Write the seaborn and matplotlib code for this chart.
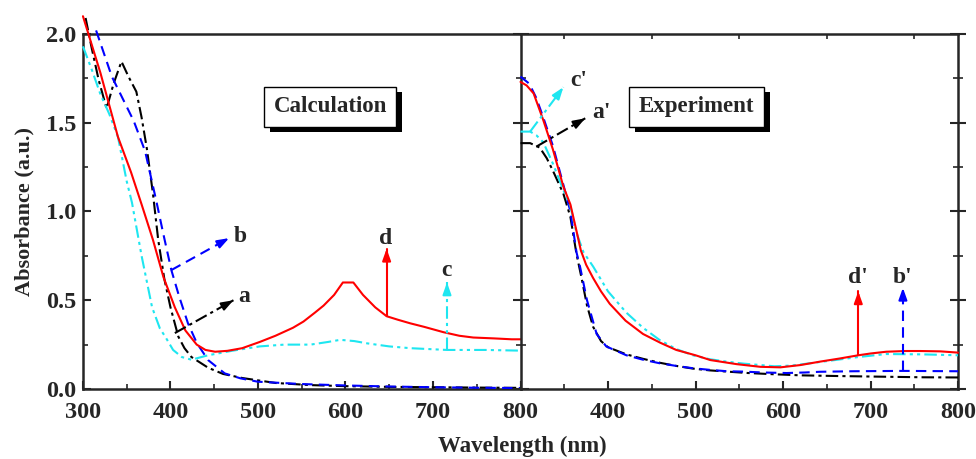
import numpy as np
import pandas as pd
import matplotlib
matplotlib.use("Agg")
import matplotlib.pyplot as plt
import matplotlib.transforms as mtransforms
from matplotlib.patches import Rectangle
from matplotlib.ticker import MultipleLocator
import seaborn as sns

# ---- calculated spectra (left panel) ----
calc_red_x = [300, 320, 340, 355, 367, 380, 392, 405, 417, 430, 440, 451, 465, 482, 502, 520, 540, 552,
              565, 575, 587, 597, 609, 620, 634, 647, 660, 674, 690, 712, 730, 746, 770, 790, 811]
calc_red_y = [2.10, 1.78, 1.42, 1.22, 1.04, 0.84, 0.63, 0.46, 0.33, 0.25, 0.22, 0.21, 0.215, 0.23, 0.265,
              0.30, 0.345, 0.38, 0.43, 0.47, 0.53, 0.60, 0.60, 0.53, 0.46, 0.41, 0.39, 0.37, 0.35, 0.32,
              0.30, 0.29, 0.285, 0.28, 0.28]
calc_cyan_x = [300, 310, 320, 330, 340, 350, 356, 367, 379, 388, 394, 403, 413, 424, 443, 470, 502, 530,
               560, 580, 594, 610, 625, 650, 674, 716, 760, 811]
calc_cyan_y = [1.93, 1.80, 1.66, 1.55, 1.42, 1.17, 1.05, 0.75, 0.46, 0.34, 0.295, 0.22, 0.18, 0.165, 0.19,
               0.215, 0.24, 0.25, 0.25, 0.265, 0.277, 0.27, 0.257, 0.24, 0.23, 0.22, 0.22, 0.215]
calc_black_x = [303, 310, 318, 327, 335, 344, 352, 361, 367, 373, 380, 386, 393, 400, 409, 416, 424, 443,
                460, 482, 520, 560, 600, 650, 700, 750, 811]
calc_black_y = [2.09, 1.92, 1.74, 1.58, 1.72, 1.845, 1.76, 1.675, 1.53, 1.355, 1.10, 0.84, 0.62, 0.46,
                0.295, 0.23, 0.18, 0.12, 0.085, 0.062, 0.034, 0.022, 0.016, 0.012, 0.010, 0.008, 0.006]
calc_blue_x = [315, 333, 346, 358, 371, 384, 392, 401, 410, 420, 430, 443, 462, 480, 500, 550, 600, 650,
               700, 750, 811]
calc_blue_y = [2.02, 1.76, 1.63, 1.51, 1.34, 1.055, 0.87, 0.67, 0.52, 0.37, 0.26, 0.163, 0.088, 0.06,
               0.041, 0.028, 0.02, 0.014, 0.010, 0.007, 0.005]

# ---- experimental spectra (right panel) ----
exp_red_x = [300, 307, 315, 326, 337, 349, 357, 364, 369, 375, 383, 392, 402, 420, 440, 460, 478, 500,
             517, 547, 574, 597, 620, 642, 665, 686, 700, 718, 740, 757, 780, 800]
exp_red_y = [1.73, 1.71, 1.665, 1.515, 1.35, 1.14, 1.04, 0.89, 0.78, 0.70, 0.625, 0.55, 0.48, 0.385,
             0.31, 0.26, 0.22, 0.19, 0.163, 0.14, 0.125, 0.122, 0.135, 0.154, 0.172, 0.19, 0.20, 0.21,
             0.214, 0.214, 0.212, 0.205]
exp_cyan_x = [300, 311, 318, 326, 337, 349, 357, 364, 372, 383, 400, 421, 440, 459, 478, 497, 516, 536,
              555, 574, 590, 610, 642, 686, 718, 760, 800]
exp_cyan_y = [1.45, 1.45, 1.43, 1.39, 1.27, 1.12, 1.03, 0.88, 0.77, 0.69, 0.55, 0.43, 0.345, 0.276,
              0.225, 0.19, 0.168, 0.154, 0.143, 0.135, 0.128, 0.132, 0.152, 0.18, 0.197, 0.195, 0.19]
exp_blue_x = [300, 310, 318, 326, 337, 349, 357, 364, 368, 376, 387, 398, 421, 440, 459, 478, 497, 516,
              536, 555, 577, 604, 625, 642, 680, 737, 800]
exp_blue_y = [1.76, 1.72, 1.64, 1.53, 1.37, 1.15, 1.00, 0.77, 0.69, 0.50, 0.31, 0.24, 0.19, 0.165,
              0.145, 0.13, 0.117, 0.108, 0.10, 0.098, 0.093, 0.09, 0.093, 0.097, 0.10, 0.102, 0.10]
exp_black_x = [300, 311, 322, 330, 337, 349, 357, 364, 370, 376, 383, 392, 400, 421, 440, 459, 478, 497,
               516, 536, 560, 590, 620, 663, 718, 760, 800]
exp_black_y = [1.385, 1.385, 1.36, 1.30, 1.23, 1.10, 0.97, 0.76, 0.62, 0.47, 0.35, 0.27, 0.235, 0.195,
               0.17, 0.148, 0.13, 0.115, 0.105, 0.098, 0.09, 0.083, 0.077, 0.073, 0.069, 0.066, 0.065]

# ---- curve labels: (label, start x, start y, tip x, tip y, text x, text y) ----
calc_marks = [("b", 401, 0.67, 467, 0.85, 480, 0.86),
              ("a", 405, 0.315, 472, 0.50, 484, 0.52),
              ("d", 647, 0.41, 647, 0.79, 646, 0.85),
              ("c", 716, 0.22, 716, 0.60, 715, 0.67)]
exp_marks = [("c'", 311, 1.45, 349, 1.70, 367, 1.74),
             ("a'", 318, 1.365, 374, 1.525, 393, 1.56),
             ("d'", 686, 0.19, 686, 0.55, 686, 0.63),
             ("b'", 737, 0.102, 737, 0.57, 737, 0.63)]

x_ticks = [300, 400, 500, 600, 700, 800]
y_ticks = [0.0, 0.5, 1.0, 1.5, 2.0]

RED, BLUE, BLACK, CYAN = "#ff0000", "#0000ff", "#000000", "#1ee6f0"
styles = {
    "red": dict(color=RED, linestyle="-"),
    "blue": dict(color=BLUE, linestyle=(0, (5, 3))),
    "black": dict(color=BLACK, linestyle=(0, (6, 2, 1.5, 2))),
    "cyan": dict(color=CYAN, linestyle=(0, (6, 2, 1.5, 2, 1.5, 2))),
}
mark_style = {"a": "black", "b": "blue", "c": "cyan", "d": "red"}

sns.set_style("ticks")
plt.rcParams["font.family"] = ["Liberation Serif", "DejaVu Serif"]
plt.rcParams["font.weight"] = "bold"
plt.rcParams["axes.labelweight"] = "bold"

fig = plt.figure(figsize=(9.76, 4.59), dpi=100)
ax1 = fig.add_axes([0.085, 0.1525, 0.4483, 0.7735])
ax2 = fig.add_axes([0.5333, 0.1525, 0.4483, 0.7735])


def draw(ax, x, y, key):
    df = pd.DataFrame({"x": x, "y": y})
    sns.lineplot(data=df, x="x", y="y", ax=ax, sort=False, estimator=None,
                 lw=1.5, clip_on=False, zorder=3, **styles[key])


def mark(ax, m):
    lab, x0, y0, x1, y1, tx, ty = m
    st = styles[mark_style[lab[0]]]
    ax.plot([x0, x1], [y0, y1], lw=1.5, clip_on=False, zorder=4, **st)
    ax.annotate("", xy=(x1, y1), xytext=(x0 + (x1 - x0) * 0.85, y0 + (y1 - y0) * 0.85),
                arrowprops=dict(arrowstyle="-|>,head_length=0.7,head_width=0.25",
                                color=st["color"], lw=1.5, shrinkA=0, shrinkB=0), zorder=5)
    ax.text(tx, ty, lab, ha="center", va="center", fontsize=17, fontweight="bold", zorder=5)


boxes = []


def label_box(ax, x, y, s):
    t = ax.text(x, y, s, transform=ax.transAxes, ha="center", va="center", fontsize=16.5,
                fontweight="bold", zorder=7,
                bbox=dict(boxstyle="square,pad=0.42", fc="white", ec="black", lw=1))
    boxes.append((ax, t))


draw(ax1, calc_black_x, calc_black_y, "black")
draw(ax1, calc_blue_x, calc_blue_y, "blue")
draw(ax1, calc_cyan_x, calc_cyan_y, "cyan")
draw(ax1, calc_red_x, calc_red_y, "red")
for m in calc_marks:
    mark(ax1, m)

draw(ax2, exp_black_x, exp_black_y, "black")
draw(ax2, exp_blue_x, exp_blue_y, "blue")
draw(ax2, exp_cyan_x, exp_cyan_y, "cyan")
draw(ax2, exp_red_x, exp_red_y, "red")
for m in exp_marks:
    mark(ax2, m)

label_box(ax1, 0.565, 0.795, "Calculation")
label_box(ax2, 0.403, 0.795, "Experiment")

for ax in (ax1, ax2):
    ax.set_xlim(300, 800)
    ax.set_ylim(0, 2.0)
    ax.set_xticks(x_ticks)
    ax.set_yticks(y_ticks)
    ax.xaxis.set_minor_locator(MultipleLocator(50))
    ax.yaxis.set_minor_locator(MultipleLocator(0.25))
    ax.set_xlabel("")
    ax.set_ylabel("")
    for sp in ax.spines.values():
        sp.set_linewidth(1.8)
        sp.set_visible(True)
    ax.tick_params(which="major", direction="in", length=6, width=1.5, labelsize=17.5, pad=5)
    ax.tick_params(which="minor", direction="in", length=3.5, width=1.2)
    ax.tick_params(axis="x", which="major", pad=9)

ax1.set_yticklabels([f"{v:.1f}" for v in y_ticks])
ax1.set_xticklabels([str(v) for v in x_ticks])
ax1.tick_params(which="both", right=False, top=False)
ax1.spines["right"].set_visible(False)

ax2.set_xticklabels([""] + [str(v) for v in x_ticks[1:]])
ax2.set_yticklabels([])
ax2.tick_params(which="both", left=True, right=True, top=True, labelleft=False)
ax2.tick_params(axis="y", which="major", direction="inout", length=12)
ax2.tick_params(axis="y", which="minor", direction="inout", length=7)
ax2.tick_params(axis="x", which="major", top=False)

ax1.set_ylabel("Absorbance (a.u.)", fontsize=16, fontweight="bold", labelpad=8)
fig.text(0.535, 0.005, "Wavelength (nm)", ha="center", va="bottom", fontsize=16.5, fontweight="bold")

# drop shadows behind the two label boxes
fig.canvas.draw()
for ax, t in boxes:
    bb = t.get_bbox_patch().get_window_extent()
    sh = Rectangle((bb.x0 + 6, bb.y0 - 5), bb.width, bb.height, transform=mtransforms.IdentityTransform(),
                   fc="black", ec="black", lw=0, zorder=6, clip_on=False)
    ax.add_patch(sh)

fig.savefig("out.png", dpi=100)
